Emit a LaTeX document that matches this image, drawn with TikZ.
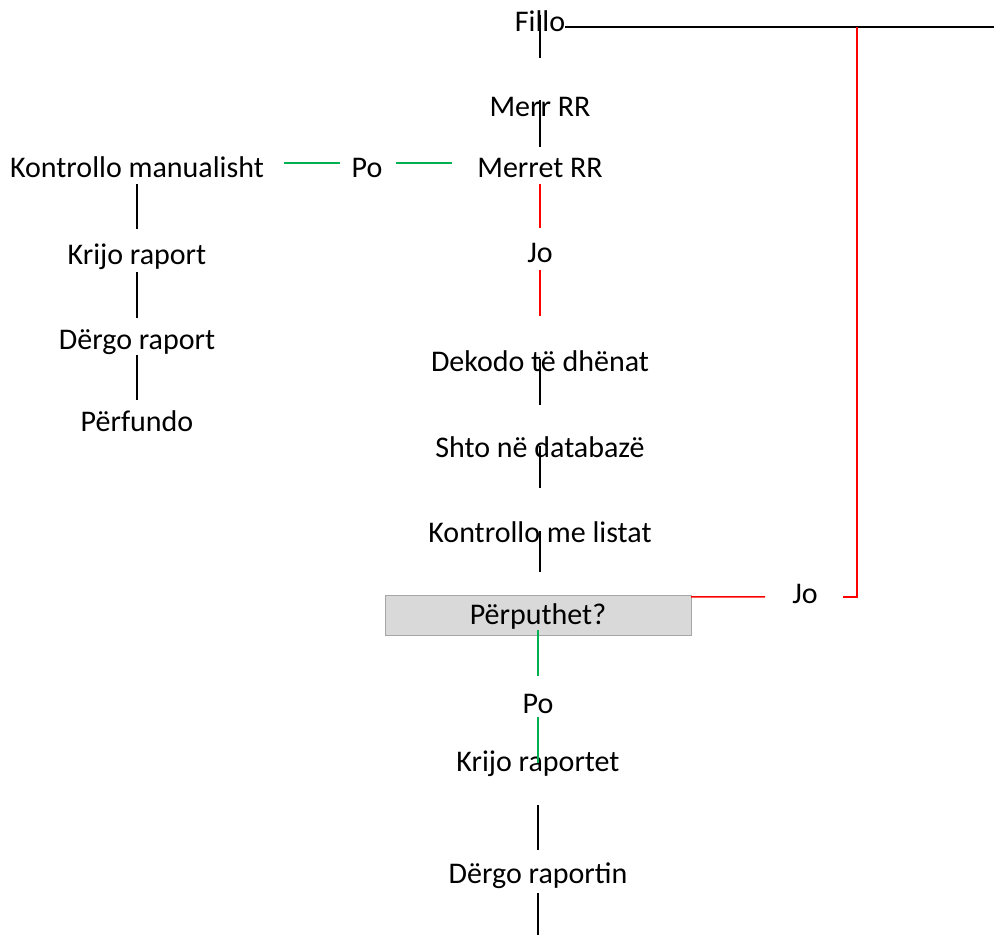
\documentclass[tikz,border=0pt]{standalone}
\usepackage{fontspec}
\setmainfont{Carlito}
\definecolor{yesgreen}{HTML}{00B050}
\definecolor{nored}{HTML}{FF0000}
\definecolor{boxfill}{HTML}{D9D9D9}
\definecolor{boxline}{HTML}{A6A6A6}

\tikzstyle{label} = [inner sep=0pt, text height=19pt, text depth=0pt, font=\fontsize{30}{36}\selectfont]
\tikzstyle{decision} = [label, draw=boxline, fill=boxfill, rectangle, minimum width=306pt, minimum height=40pt]
\tikzstyle{link} = [line width=1.5pt]

\begin{document}
\begin{tikzpicture}[x=1pt,y=-1pt]
            \useasboundingbox (0,0) rectangle (994,935);
            %
            % main column
            \node [label] (fillo) at (540,22) {Fillo};
            \node [label] (merr) at (540,107) {Merr RR};
            \node [label] (merret) at (540,168) {Merret RR};
            \node [label] (jo1) at (540,253) {Jo};
            \node [label] (dekodo) at (540,362) {Dekodo të dhënat};
            \node [label] (shto) at (540,448) {Shto në databazë};
            \node [label] (listat) at (540,533) {Kontrollo me listat};
            \node [decision] (perputhet) at (538,615) {Përputhet?};
            \node [label] (po2) at (538,704) {Po};
            \node [label] (krijot) at (538,762) {Krijo raportet};
            \node [label] (dergot) at (538,874) {Dërgo raportin};
            % manual branch
            \node [label] (po1) at (367,168) {Po};
            \node [label] (kontr) at (137,168) {Kontrollo manualisht};
            \node [label] (krijo) at (137,255) {Krijo raport};
            \node [label] (dergo) at (137,340) {Dërgo raport};
            \node [label] (perf) at (137,422) {Përfundo};
            % loop back
            \node [label] (jo2) at (805,594) {Jo};
            \coordinate (topend) at (994,27);
            \coordinate (turn) at (857,27);
            \coordinate (bottom) at (538,935);
            %
            % Once the nodes are placed, the connectors
            \draw [link, shorten <=-7pt, shorten >=49pt] (fillo.center) -- (merr.center);
            \draw [link] ([yshift=-5pt]fillo.east) -- (topend);
            \draw [link, shorten <=-7pt, shorten >=21pt] (merr.center) -- (merret.center);
            \draw [link, yesgreen, shorten <=88pt, shorten >=29pt] ([yshift=5pt]merret.center) -- ([yshift=5pt]po1.center);
            \draw [link, yesgreen, shorten <=27pt, shorten >=147pt] ([yshift=5pt]po1.center) -- ([yshift=5pt]kontr.center);
            \draw [link, nored, shorten <=16pt, shorten >=25pt] (merret.center) -- (jo1.center);
            \draw [link, nored, shorten <=17pt, shorten >=46pt] (jo1.center) -- (dekodo.center);
            \draw [link, shorten <=-3pt, shorten >=43pt] (dekodo.center) -- (shto.center);
            \draw [link, shorten <=-2pt, shorten >=45pt] (shto.center) -- (listat.center);
            \draw [link, shorten <=-2pt, shorten >=43pt] (listat.center) -- (listat.center |- perputhet.center);
            \draw [link, yesgreen, shorten <=15pt, shorten >=28pt] (perputhet.center) -- (po2.center);
            \draw [link, yesgreen, shorten <=13pt, shorten >=-1pt] (po2.center) -- (krijot.center);
            \draw [link, shorten <=43pt, shorten >=24pt] (krijot.center) -- (dergot.center);
            \draw [link, shorten <=19pt] (dergot.center) -- (bottom);
            \draw [link, shorten <=16pt, shorten >=26pt] (kontr.center) -- (krijo.center);
            \draw [link, shorten <=17pt, shorten >=22pt] (krijo.center) -- (dergo.center);
            \draw [link, shorten <=15pt, shorten >=22pt] (dergo.center) -- (perf.center);
            \draw [link, nored, shorten >=40pt] ([yshift=-2pt]perputhet.north east) -- ([yshift=-3pt]jo2.center);
            \draw [link, nored, shorten <=38pt] ([yshift=-3pt]jo2.center) -| (turn);
            %
        \end{tikzpicture}
\end{document}
